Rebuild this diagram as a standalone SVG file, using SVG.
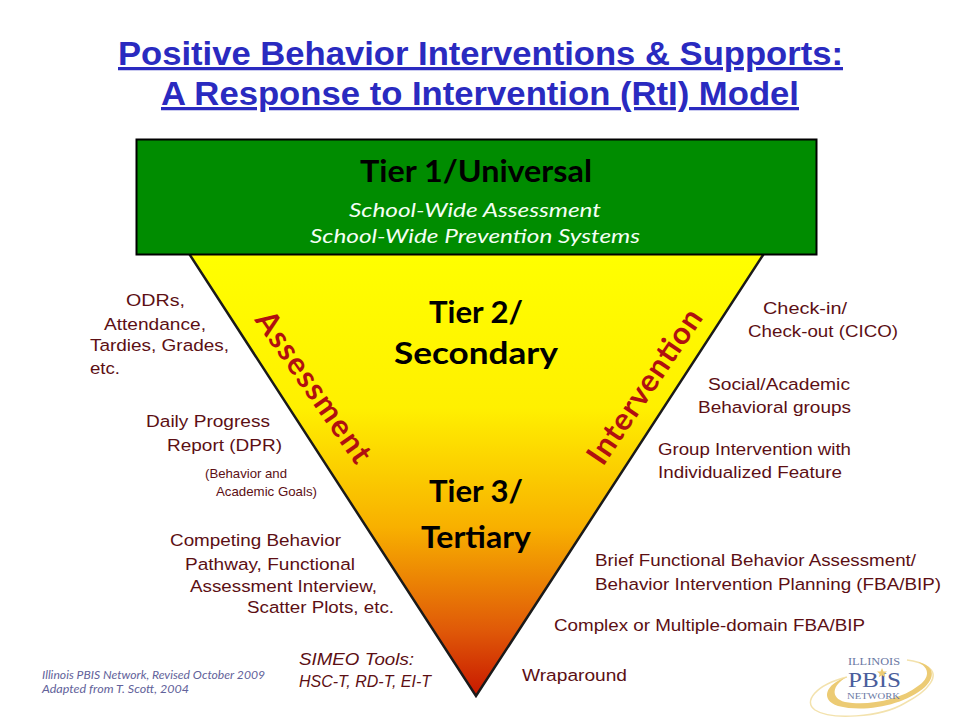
<svg xmlns="http://www.w3.org/2000/svg" width="960" height="720" viewBox="0 0 960 720">
<style>
text{font-family:"Liberation Sans",Arial,sans-serif}
.t{font-size:32.500px;font-weight:700;fill:#2a2ac0;text-decoration:underline}
.n{font-size:17.200px;fill:#5c0f14}
.m{font-size:12.800px;fill:#5c0f14}
.g{font-family:"Lato","Liberation Sans",sans-serif;font-weight:700;fill:#000}
.s{font-family:"Lato","Liberation Sans",sans-serif;font-style:italic;font-size:19.500px;fill:#f4fff4}
.w{font-family:"Lato","Liberation Sans",sans-serif;font-weight:700;font-size:31px;fill:#b01010}
.c{font-family:"Lato","Liberation Sans",sans-serif;font-style:italic;font-size:10.500px;fill:#62629a}
.l{font-family:"Liberation Serif",serif;fill:#6a78a4}
</style>
<defs>
<linearGradient id="tri" x1="0" y1="0" x2="0" y2="1">
<stop offset="0" stop-color="#ffff00"/><stop offset=".35" stop-color="#fff000"/><stop offset=".62" stop-color="#f8b000"/><stop offset=".85" stop-color="#e05a08"/><stop offset="1" stop-color="#c81800"/>
</linearGradient>
</defs>
<rect width="960" height="720" fill="#fff"/>
<g id="title">
<text class="t" x="118" y="65" textLength="725" lengthAdjust="spacingAndGlyphs">Positive Behavior Interventions &amp; Supports:</text>
<text class="t" x="161" y="105" textLength="638" lengthAdjust="spacingAndGlyphs">A Response to Intervention (RtI) Model</text>
</g>
<g id="triangle"><polygon points="188,252 765,252 476,696" fill="url(#tri)" stroke="#1a1a1a" stroke-width="2.5"/></g>
<g id="tier1">
<rect x="136.500" y="139.500" width="680" height="115" fill="#008c00" stroke="#000" stroke-width="2"/>
<text class="g" x="360" y="182" font-size="30" textLength="232" lengthAdjust="spacingAndGlyphs">Tier 1/Universal</text>
<text class="s" x="349" y="217" textLength="252" lengthAdjust="spacingAndGlyphs">School-Wide Assessment</text>
<text class="s" x="310" y="243" textLength="330" lengthAdjust="spacingAndGlyphs">School-Wide Prevention Systems</text>
</g>
<g id="tier2"><text class="g" x="429" y="323" font-size="31" textLength="94" lengthAdjust="spacingAndGlyphs">Tier 2/</text><text class="g" x="394" y="364" font-size="31" textLength="164" lengthAdjust="spacingAndGlyphs">Secondary</text></g>
<g id="tier3"><text class="g" x="429" y="502" font-size="31" textLength="94" lengthAdjust="spacingAndGlyphs">Tier 3/</text><text class="g" x="421" y="548" font-size="31" textLength="110" lengthAdjust="spacingAndGlyphs">Tertiary</text></g>
<g id="assessment"><text class="w" transform="translate(254 320) rotate(55)" textLength="178" lengthAdjust="spacing">Assessment</text></g>
<g id="intervention"><text class="w" transform="translate(603 467) rotate(-56)" textLength="180" lengthAdjust="spacing">Intervention</text></g>
<g id="left-labels">
<text class="n" x="126" y="306" textLength="59" lengthAdjust="spacingAndGlyphs">ODRs,</text>
<text class="n" x="104" y="330" textLength="102" lengthAdjust="spacingAndGlyphs">Attendance,</text>
<text class="n" x="90" y="351" textLength="139" lengthAdjust="spacingAndGlyphs">Tardies, Grades,</text>
<text class="n" x="90" y="374" textLength="30" lengthAdjust="spacingAndGlyphs">etc.</text>
<text class="n" x="146" y="427" textLength="124" lengthAdjust="spacingAndGlyphs">Daily Progress</text>
<text class="n" x="167" y="451" textLength="115" lengthAdjust="spacingAndGlyphs">Report (DPR)</text>
<text class="m" x="205" y="478" textLength="82" lengthAdjust="spacingAndGlyphs">(Behavior and</text>
<text class="m" x="216" y="496" textLength="101" lengthAdjust="spacingAndGlyphs">Academic Goals)</text>
<text class="n" x="170" y="546" textLength="171" lengthAdjust="spacingAndGlyphs">Competing Behavior</text>
<text class="n" x="185" y="570" textLength="170" lengthAdjust="spacingAndGlyphs">Pathway, Functional</text>
<text class="n" x="190" y="592" textLength="187" lengthAdjust="spacingAndGlyphs">Assessment Interview,</text>
<text class="n" x="247" y="613" textLength="147" lengthAdjust="spacingAndGlyphs">Scatter Plots, etc.</text>
<text class="n" x="299" y="665" font-style="italic" textLength="115" lengthAdjust="spacingAndGlyphs">SIMEO Tools:</text>
<text class="n" x="299" y="687" font-style="italic" textLength="132" lengthAdjust="spacingAndGlyphs">HSC-T, RD-T, EI-T</text>
</g>
<g id="right-labels">
<text class="n" x="763" y="314" textLength="84" lengthAdjust="spacingAndGlyphs">Check-in/</text>
<text class="n" x="748" y="337" textLength="150" lengthAdjust="spacingAndGlyphs">Check-out (CICO)</text>
<text class="n" x="708" y="390" textLength="142" lengthAdjust="spacingAndGlyphs">Social/Academic</text>
<text class="n" x="698" y="413" textLength="153" lengthAdjust="spacingAndGlyphs">Behavioral groups</text>
<text class="n" x="658" y="455" textLength="193" lengthAdjust="spacingAndGlyphs">Group Intervention with</text>
<text class="n" x="658" y="478" textLength="184" lengthAdjust="spacingAndGlyphs">Individualized Feature</text>
<text class="n" x="595" y="566" textLength="321" lengthAdjust="spacingAndGlyphs">Brief Functional Behavior Assessment/</text>
<text class="n" x="595" y="590" textLength="346" lengthAdjust="spacingAndGlyphs">Behavior Intervention Planning (FBA/BIP)</text>
<text class="n" x="554" y="631" textLength="311" lengthAdjust="spacingAndGlyphs">Complex or Multiple-domain FBA/BIP</text>
<text class="n" x="522" y="681" textLength="105" lengthAdjust="spacingAndGlyphs">Wraparound</text>
</g>
<g id="credit">
<text class="c" x="42" y="679" textLength="223" lengthAdjust="spacingAndGlyphs">Illinois PBIS Network, Revised October 2009</text>
<text class="c" x="42" y="693" textLength="147" lengthAdjust="spacingAndGlyphs">Adapted from T. Scott, 2004</text>
</g>
<g id="logo">
<path d="M847 677C815 685 803 702 815 710C830 720 880 718 905 703C930 690 940 675 928 667C922 663 915 661 907 660" fill="none" stroke="#f3e2ad" stroke-width="1.500"/>
<path d="M847 677C825 684 820 700 838 706C865 713 905 705 925 687C936 676 934 666 918 662C930 668 930 678 918 686C900 700 868 706 845 702C830 698 832 685 847 677Z" fill="#eccb74"/>
<text class="l" x="848" y="664.500" font-size="9.500" textLength="52" lengthAdjust="spacingAndGlyphs">ILLINOIS</text>
<text class="l" x="848" y="687" font-size="22" style="fill:#4a5e9c" textLength="53" lengthAdjust="spacingAndGlyphs">PBIS</text>
<polygon points="882,668 883.500,671.500 887,671.500 884.300,673.800 885.300,677.300 882,675.300 878.700,677.300 879.700,673.800 877,671.500 880.500,671.500" fill="#eccb74"/>
<text class="l" x="847" y="699" font-size="8.500" textLength="53" lengthAdjust="spacingAndGlyphs">NETWORK</text>
</g>
</svg>
